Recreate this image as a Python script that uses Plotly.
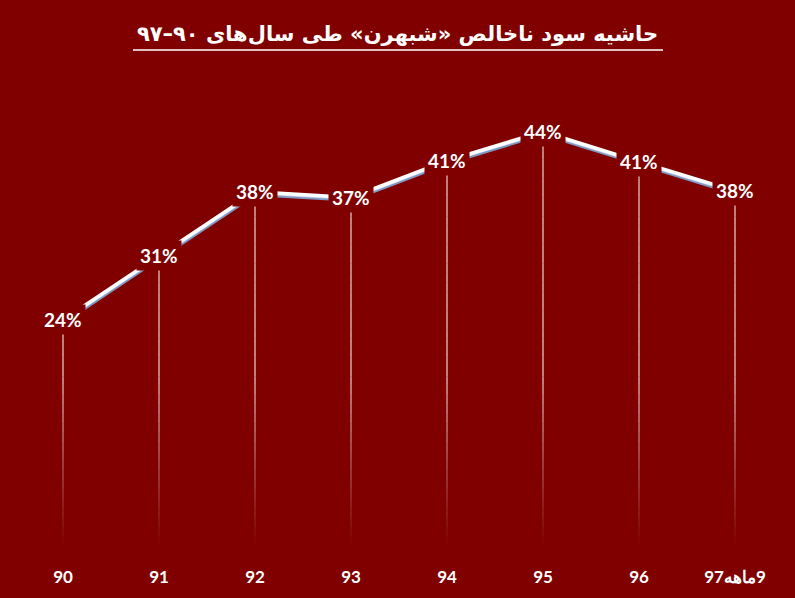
import plotly.graph_objects as go

# data
years = ["90", "91", "92", "93", "94", "95", "96", "\u200f9ماهه97"]
margin_pct = [24.0, 30.8, 37.6, 37.0, 40.9, 44.0, 40.8, 37.7]
labels = ["24%", "31%", "38%", "37%", "41%", "44%", "41%", "38%"]

title_text = "حاشیه سود ناخالص «شبهرن» طی سال‌های ۹۰–۹۷"

bg = "#800000"
xs = list(range(len(years)))

fig = go.Figure()

# drop lines, faded toward the axis in bands
step = 1.0
nbands = int(max(margin_pct) / step) + 1
for k in range(nbands):
    lo = k * step
    hi = (k + 1) * step
    bx, by = [], []
    for x, v in zip(xs, margin_pct):
        if v > lo:
            bx += [x, x, None]
            by += [lo, min(v, hi), None]
    alpha = min(1.0, (lo + step / 2) / 18.0)
    fig.add_trace(go.Scatter(x=bx, y=by, mode="lines", hoverinfo="skip",
                             line=dict(color="rgba(255,255,255,%.3f)" % alpha, width=1),
                             showlegend=False))

# shadowed line
fig.add_trace(go.Scatter(x=xs, y=[v - 0.25 for v in margin_pct], mode="lines",
                         line=dict(color="#7f98c4", width=4), hoverinfo="skip",
                         showlegend=False))
fig.add_trace(go.Scatter(x=xs, y=[v - 0.1 for v in margin_pct], mode="lines",
                         line=dict(color="#c9d6ee", width=3), hoverinfo="skip",
                         showlegend=False))
fig.add_trace(go.Scatter(x=xs, y=margin_pct, mode="lines",
                         line=dict(color="white", width=3.5), showlegend=False))

for x, v, t in zip(xs, margin_pct, labels):
    fig.add_annotation(x=x, y=v, text="<b>%s</b>" % t, showarrow=False,
                       bgcolor=bg, borderpad=3,
                       font=dict(family="Lato", size=19, color="white"))

fig.update_layout(
    width=795, height=598,
    paper_bgcolor=bg, plot_bgcolor=bg,
    margin=dict(l=15, r=12, t=75, b=52),
    title=dict(text="<b>%s</b>" % title_text, x=0.5, xanchor="center",
               y=1 - 34 / 598, yanchor="middle",
               font=dict(family="DejaVu Sans", size=21, color="white")),
    xaxis=dict(tickmode="array", tickvals=xs, ticktext=["<b>%s</b>" % y for y in years],
               range=[-0.5, len(years) - 0.5], showgrid=False, zeroline=False,
               showline=False, ticks="", ticklabelstandoff=19,
               tickfont=dict(family="Lato", size=17, color="white")),
    yaxis=dict(range=[0, 50], visible=False, showgrid=False, zeroline=False),
    shapes=[dict(type="line", xref="paper", yref="paper",
                 x0=(133 - 15) / 768, x1=(663 - 15) / 768,
                 y0=1 + (75 - 50) / 471, y1=1 + (75 - 50) / 471,
                 line=dict(color="white", width=1.5))],
)

fig.write_html("out.html", config={"displayModeBar": False},
               post_script="document.body.style.margin='0';")
